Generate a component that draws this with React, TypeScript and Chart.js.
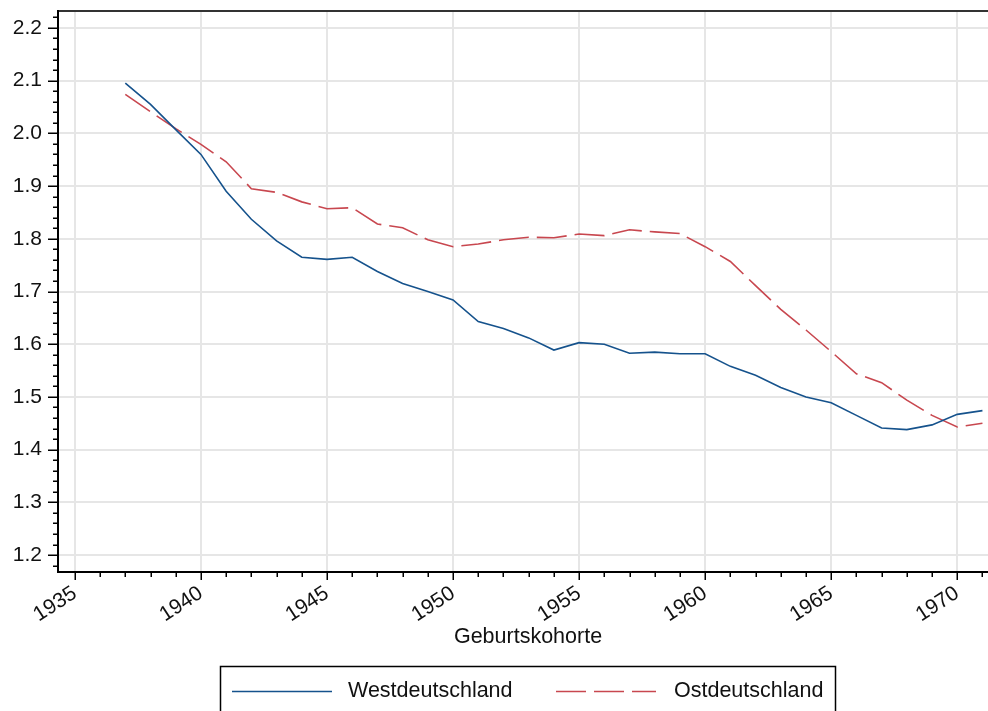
import { useEffect, useRef } from 'react';
import { Chart, registerables } from 'chart.js';

Chart.register(...registerables);

const years = [1937, 1938, 1939, 1940, 1941, 1942, 1943, 1944, 1945, 1946, 1947, 1948, 1949, 1950, 1951, 1952, 1953, 1954, 1955, 1956, 1957, 1958, 1959, 1960, 1961, 1962, 1963, 1964, 1965, 1966, 1967, 1968, 1969, 1970, 1971];
const westValues = [2.095, 2.055, 2.007, 1.960, 1.890, 1.837, 1.796, 1.765, 1.761, 1.765, 1.738, 1.715, 1.700, 1.684, 1.643, 1.630, 1.612, 1.589, 1.603, 1.600, 1.583, 1.585, 1.582, 1.582, 1.558, 1.541, 1.518, 1.500, 1.489, 1.465, 1.441, 1.438, 1.447, 1.467, 1.474];
const eastValues = [2.074, 2.041, 2.009, 1.979, 1.946, 1.895, 1.888, 1.870, 1.857, 1.859, 1.828, 1.821, 1.798, 1.785, 1.790, 1.798, 1.803, 1.802, 1.809, 1.806, 1.817, 1.813, 1.810, 1.785, 1.757, 1.711, 1.666, 1.627, 1.586, 1.544, 1.527, 1.494, 1.465, 1.443, 1.450];
const seriesNames = ['Westdeutschland', 'Ostdeutschland'];
const xTickValues = [1935, 1940, 1945, 1950, 1955, 1960, 1965, 1970];
const yTickValues = [1.2, 1.3, 1.4, 1.5, 1.6, 1.7, 1.8, 1.9, 2.0, 2.1, 2.2];
const xAxisTitle = 'Geburtskohorte';

const FONT = '"Liberation Sans", Arial, Helvetica, sans-serif';
const BLUE = '#15528c';
const RED = '#c8474f';

const decorPlugin = {
  id: 'decor',
  afterDraw(chart: any) {
    const ctx = chart.ctx;
    const { left, right, top, bottom } = chart.chartArea;
    const xs = chart.scales.x;
    const ys = chart.scales.y;
    ctx.save();
    // axis lines
    ctx.lineWidth = 2;
    ctx.strokeStyle = '#333333';
    ctx.beginPath();
    ctx.moveTo(left, top);
    ctx.lineTo(right, top);
    ctx.stroke();
    ctx.strokeStyle = '#000000';
    ctx.beginPath();
    ctx.moveTo(left, top - 1);
    ctx.lineTo(left, bottom + 1);
    ctx.moveTo(left - 1, bottom);
    ctx.lineTo(right, bottom);
    ctx.stroke();
    // x ticks (every year)
    ctx.lineWidth = 1.5;
    ctx.beginPath();
    for (let yr = Math.ceil(xs.min); yr <= xs.max; yr++) {
      const px = Math.round(xs.getPixelForValue(yr)) + 0.25;
      const len = yr % 5 === 0 ? 8 : 5;
      ctx.moveTo(px, bottom);
      ctx.lineTo(px, bottom + len);
    }
    // y ticks (every 0.02)
    for (let i = Math.ceil(ys.min * 50); i <= Math.floor(ys.max * 50); i++) {
      const py = Math.round(ys.getPixelForValue(i / 50)) + 0.25;
      const len = i % 5 === 0 ? 10 : 5;
      ctx.moveTo(left, py);
      ctx.lineTo(left - len, py);
    }
    ctx.stroke();

    // x axis title
    ctx.fillStyle = '#111111';
    ctx.font = `21.5px ${FONT}`;
    ctx.textBaseline = 'middle';
    ctx.textAlign = 'center';
    ctx.fillText(xAxisTitle, 528, 637);

    // legend box
    const bx = 220.5, by = 666.5, bw = 615, bh = 60;
    ctx.lineWidth = 1.5;
    ctx.strokeStyle = '#000000';
    ctx.strokeRect(bx, by, bw, bh);
    const ly = 691.5;
    const ds = chart.data.datasets;
    ctx.textAlign = 'left';
    // item 1
    ctx.lineWidth = 1.6;
    ctx.strokeStyle = ds[0].borderColor;
    ctx.setLineDash([]);
    ctx.beginPath();
    ctx.moveTo(232, ly);
    ctx.lineTo(332, ly);
    ctx.stroke();
    ctx.fillText(ds[0].label, 348, ly);
    // item 2
    ctx.strokeStyle = ds[1].borderColor;
    ctx.setLineDash([30, 8]);
    ctx.beginPath();
    ctx.moveTo(556, ly);
    ctx.lineTo(656, ly);
    ctx.stroke();
    ctx.setLineDash([]);
    ctx.fillText(ds[1].label, 674, ly);
    ctx.restore();
  },
};

export default function App() {
  const ref = useRef<HTMLCanvasElement | null>(null);
  useEffect(() => {
    document.body.style.margin = '0';
    const canvas = ref.current;
    if (!canvas) return;
    const chart = new Chart(canvas, {
      type: 'line',
      data: {
        datasets: [
          {
            label: seriesNames[0],
            data: years.map((y, i) => ({ x: y, y: westValues[i] })),
            borderColor: BLUE,
            backgroundColor: BLUE,
            borderWidth: 1.6,
            pointRadius: 0,
            tension: 0,
            fill: false,
          },
          {
            label: seriesNames[1],
            data: years.map((y, i) => ({ x: y, y: eastValues[i] })),
            borderColor: RED,
            backgroundColor: RED,
            borderWidth: 1.6,
            borderDash: [30, 8],
            pointRadius: 0,
            tension: 0,
            fill: false,
          },
        ],
      },
      options: {
        responsive: false,
        animation: false,
        devicePixelRatio: 1,
        layout: { padding: { top: 11, left: 0, right: 0, bottom: 47 } },
        plugins: {
          legend: { display: false },
          tooltip: { enabled: false },
          title: { display: false },
        },
        scales: {
          x: {
            type: 'linear',
            min: 1934.33,
            max: 1971.22,
            afterBuildTicks: (s: any) => {
              s.ticks = xTickValues.map((v) => ({ value: v }));
            },
            afterFit: (s: any) => {
              s.height = 92;
              s.paddingLeft = 0;
              s.paddingRight = 0;
            },
            grid: { color: '#e6e6e6', lineWidth: 2, drawTicks: false },
            border: { display: false },
            ticks: {
              autoSkip: false,
              minRotation: 33,
              maxRotation: 33,
              padding: 9,
              color: '#111111',
              font: { family: FONT, size: 21 },
              callback: (v: any) => String(v),
            },
            title: { display: false },
          },
          y: {
            type: 'linear',
            min: 1.168,
            max: 2.232,
            afterBuildTicks: (s: any) => {
              s.ticks = yTickValues.map((v) => ({ value: v }));
            },
            afterFit: (s: any) => {
              s.width = 58;
              s.paddingTop = 0;
              s.paddingBottom = 0;
            },
            grid: { color: '#e6e6e6', lineWidth: 2, drawTicks: false },
            border: { display: false },
            ticks: {
              padding: 16,
              color: '#111111',
              font: { family: FONT, size: 21 },
              callback: (v: any) => Number(v).toFixed(1),
            },
          },
        },
      },
      plugins: [decorPlugin],
    });
    return () => chart.destroy();
  }, []);
  return (
    <div style={{ width: 988, height: 711, position: 'relative', background: '#fff' }}>
      <canvas ref={ref} width={988} height={711} style={{ display: 'block' }} />
    </div>
  );
}
